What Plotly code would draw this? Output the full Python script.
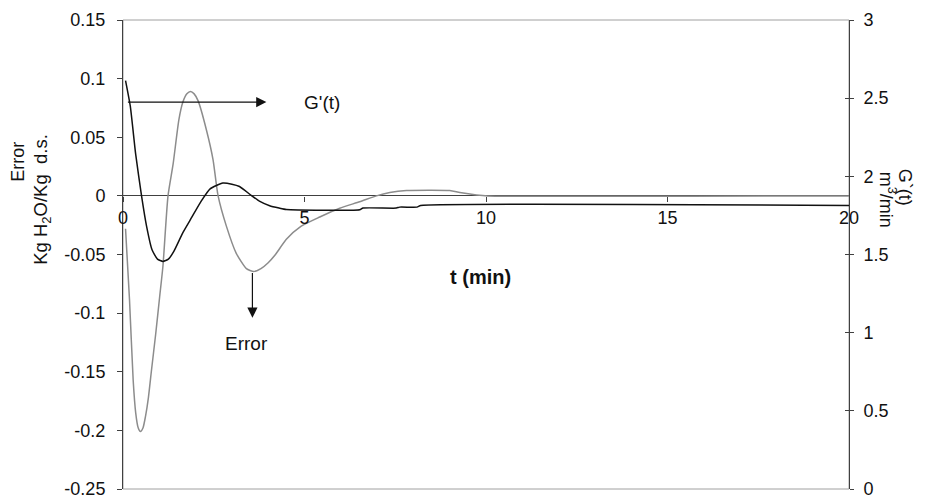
import plotly.graph_objects as go

# Error (left axis), gray curve
t_err = [0.07, 0.18, 0.28, 0.35, 0.42, 0.48, 0.55, 0.62, 0.70, 0.78, 0.90, 1.01, 1.10, 1.24,
         1.38, 1.54, 1.65, 1.76, 1.86, 1.96, 2.07, 2.30, 2.48, 2.62, 2.85, 3.12, 3.40, 3.60,
         3.80, 4.00, 4.20, 4.50, 4.90, 5.42, 5.97, 6.52, 6.98, 7.35, 7.81, 9.00, 9.28, 9.74,
         10.05, 20.0]
err = [-0.028, -0.089, -0.157, -0.185, -0.198, -0.201, -0.198, -0.188, -0.172, -0.150, -0.118,
       -0.086, -0.060, 0.0, 0.027, 0.065, 0.080, 0.087, 0.089, 0.087, 0.081, 0.056, 0.031, 0.0,
       -0.026, -0.049, -0.062, -0.0645, -0.062, -0.057, -0.050, -0.037, -0.026, -0.018, -0.0105,
       -0.005, 0.0, 0.0028, 0.0045, 0.0045, 0.0028, 0.0008, 0.0, 0.0]

# G'(t) (right axis), black curve
t_g = [0.07, 0.20, 0.35, 0.51, 0.65, 0.80, 0.95, 1.10, 1.25, 1.40, 1.65, 1.90, 2.15, 2.40,
       2.75, 3.00, 3.21, 3.54, 3.77, 4.04, 4.30, 4.50, 6.52, 6.61, 7.53, 7.62, 8.10, 8.20, 20.0]
g_vals = [2.612, 2.450, 2.140, 1.877, 1.680, 1.530, 1.470, 1.456, 1.470, 1.520, 1.640, 1.740,
          1.840, 1.920, 1.957, 1.950, 1.935, 1.877, 1.840, 1.812, 1.797, 1.788, 1.786, 1.797,
          1.797, 1.803, 1.803, 1.813, 1.813]

x_ticks = [0, 5, 10, 15, 20]
x_labels = ["0", "5", "10", "15", "20"]
yl_ticks = [0.15, 0.1, 0.05, 0, -0.05, -0.1, -0.15, -0.2, -0.25]
yl_labels = ["0.15", "0.1", "0.05", "0", "-0.05", "-0.1", "-0.15", "-0.2", "-0.25"]
yr_ticks = [0, 0.5, 1, 1.5, 2, 2.5, 3]
yr_labels = ["0", "0.5", "1", "1.5", "2", "2.5", "3"]

FONT = "Liberation Sans, Arial, sans-serif"
AX = "#404040"
FS = 18

# page has an 8px body margin; plot area in page pixels: x 123..849, y 20..489.5
PL, PR, PT, PB = 123, 849, 20, 489.5
OFF = 8

fig = go.Figure()
fig.add_trace(go.Scatter(x=t_err, y=err, mode="lines", yaxis="y",
                         line=dict(color="#8c8c8c", width=1.5, shape="spline", smoothing=0.6),
                         name="Error", showlegend=False))
fig.add_trace(go.Scatter(x=t_g, y=g_vals, mode="lines", yaxis="y2",
                         line=dict(color="#111111", width=1.5, shape="spline", smoothing=0.5),
                         name="G'(t)", showlegend=False))
fig.add_trace(go.Scatter(x=[None], y=[None], yaxis="y3", showlegend=False, hoverinfo="skip"))

fig.update_layout(
    width=944, height=503,
    margin=dict(l=PL - OFF, r=944 - (PR - OFF), t=PT - OFF, b=503 - (PB - OFF),
                autoexpand=False),
    paper_bgcolor="white", plot_bgcolor="white",
    font=dict(family=FONT, size=FS, color="#111"),
    xaxis=dict(range=[0, 20], anchor="free", position=0.625, showgrid=False, zeroline=False,
               showline=False, tickvals=x_ticks, ticktext=x_labels, ticks="outside", ticklen=5,
               tickcolor=AX, ticklabelstandoff=1, automargin=False),
    yaxis=dict(range=[-0.25, 0.15], showgrid=False, zeroline=True, zerolinecolor=AX,
               zerolinewidth=1, showline=True, linecolor=AX, linewidth=1,
               tickvals=yl_ticks, ticktext=yl_labels, ticks="outside", ticklen=5, tickcolor=AX,
               ticklabelstandoff=8, automargin=False),
    yaxis2=dict(range=[0, 3], overlaying="y", side="right", anchor="x", showgrid=False,
                zeroline=False, showline=True, linecolor=AX, linewidth=1,
                tickvals=yr_ticks, ticktext=yr_labels, ticks="outside", ticklen=4, tickcolor=AX,
                ticklabelstandoff=6, automargin=False),
    yaxis3=dict(range=[0, 3], overlaying="y", side="right", anchor="x", showgrid=False,
                zeroline=False, showline=False, tickvals=yr_ticks, ticks="inside", ticklen=4,
                tickcolor=AX, showticklabels=False, automargin=False),
)

fig.add_shape(type="rect", xref="paper", yref="paper", x0=0, x1=1, y0=0, y1=1,
              line=dict(color="#a0a0a0", width=1), layer="below")

# arrows and labels
fig.add_annotation(x=3.95, y=0.08, ax=0.094, ay=0.08, xref="x", yref="y", axref="x", ayref="y",
                   text="", showarrow=True, arrowhead=2, arrowsize=1.7, arrowwidth=1.2,
                   arrowcolor="#111")
fig.add_annotation(x=5.47, y=0.08, xref="x", yref="y", text="G'(t)", showarrow=False,
                   font=dict(size=19))
fig.add_annotation(x=3.565, y=-0.104, ax=3.565, ay=-0.0645, xref="x", yref="y", axref="x",
                   ayref="y", text="", showarrow=True, arrowhead=2, arrowsize=1.7,
                   arrowwidth=1.2, arrowcolor="#111")
fig.add_annotation(x=3.40, y=-0.1255, xref="x", yref="y", text="Error", showarrow=False,
                   font=dict(size=19))
fig.add_annotation(x=9.85, y=-0.069, xref="x", yref="y", text="<b>t (min)</b>",
                   showarrow=False, font=dict(size=20))

# axis titles, placed by page-pixel centre
titles = [
    (18, 162, "Error", -90, 18),
    (42, 200, "Kg H<sub>2</sub>O/Kg\u00a0 d.s.", -90, 18.5),
    (905, 188, "G`(t)", 90, 18),
    (887, 200, "m<sup>3</sup>/min", 90, 18),
]
for px, py, txt, ang, fs in titles:
    fig.add_annotation(x=(px - PL) / (PR - PL), y=(PB - py) / (PB - PT), xref="paper",
                       yref="paper", text=txt, showarrow=False, textangle=ang,
                       xanchor="center", yanchor="middle", font=dict(size=fs))

fig.write_html("out.html")
